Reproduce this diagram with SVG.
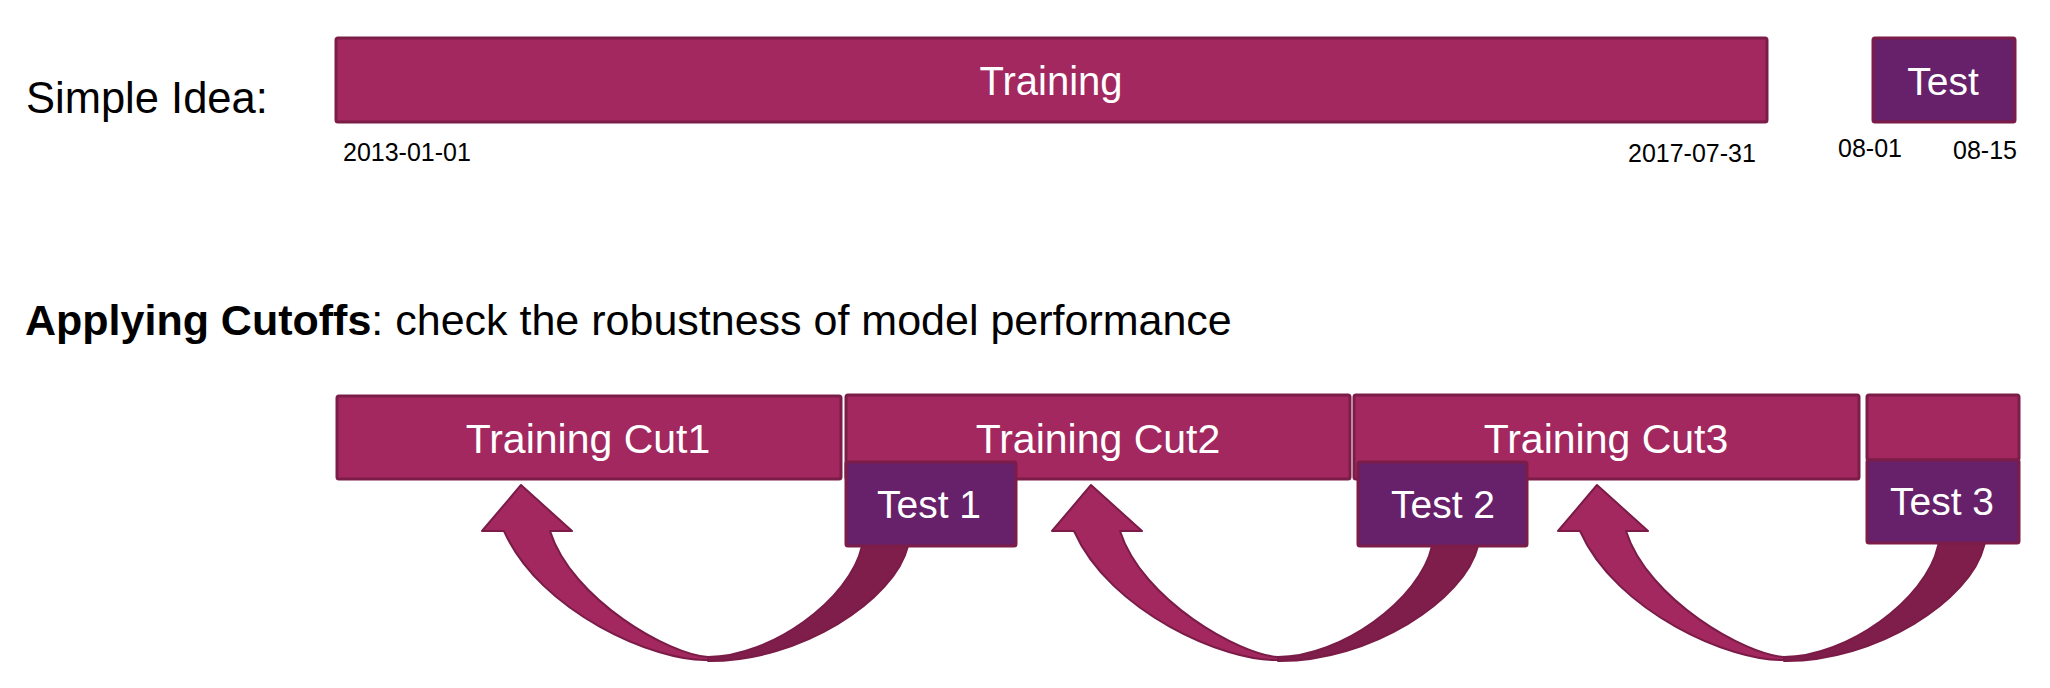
<svg xmlns="http://www.w3.org/2000/svg" xmlns:xlink="http://www.w3.org/1999/xlink" width="2050" height="688" viewBox="0 0 2050 688">
<style>
.train{fill:#A2285F;stroke:#7B1D48;stroke-width:3}
.test{fill:#66216A;stroke:#7B1D48;stroke-width:3}
.lbl{font-family:"Liberation Sans",Arial,sans-serif;fill:#000}
.in{font-family:"Liberation Sans",Arial,sans-serif;fill:#fff;text-anchor:middle}
.date{font-family:"Liberation Sans",Arial,sans-serif;fill:#000;font-size:25px}
.light{fill:#A3285F;stroke:#7A1C47;stroke-width:2;stroke-linejoin:round}
.dark{fill:#7F1D4B;stroke:#7A1C47;stroke-width:2;stroke-linejoin:round}
</style>
<defs>
<g id="curvedArrow">
<path class="dark" d="M 910,540 L 908,546 C 895,600 800,662 708,661 L 708,657 C 770,657 850,600 862,546 L 863,540 Z"/>
<path class="light" d="M 504,531 L 482,531 L 521,485 L 572,531 L 550,531 C 572,600 670,655 708,657 L 708,660 C 655,662 540,612 504,531 Z"/>
</g>
</defs>
<rect width="2050" height="688" fill="#fff"/>

<g id="titles">
<text class="lbl" x="26" y="113" font-size="43.5">Simple Idea:</text>
<text class="lbl" x="25" y="335" font-size="43"><tspan font-weight="bold">Applying Cutoffs</tspan>: check the robustness of model performance</text>
</g>

<g id="connectors">
<use xlink:href="#curvedArrow"/>
<use xlink:href="#curvedArrow" transform="translate(570,0)"/>
<use xlink:href="#curvedArrow" transform="translate(1076,0)"/>
</g>

<g id="training-full">
<rect class="train" x="336" y="38" width="1431" height="84" rx="2"/>
<text class="in" x="1051" y="95" font-size="40">Training</text>
<text class="date" x="343" y="161">2013-01-01</text>
<text class="date" x="1628" y="162">2017-07-31</text>
</g>

<g id="test-full">
<rect class="test" x="1873" y="38" width="142" height="84" rx="2"/>
<text class="in" x="1943" y="95" font-size="39">Test</text>
<text class="date" x="1838" y="157">08-01</text>
<text class="date" x="1953" y="159">08-15</text>
</g>

<g id="training-cut1">
<rect class="train" x="337" y="396" width="504" height="83" rx="2"/>
<text class="in" x="588" y="453" font-size="41">Training Cut1</text>
</g>

<g id="training-cut2">
<rect class="train" x="846" y="395" width="504" height="84" rx="2"/>
<text class="in" x="1098" y="453" font-size="41">Training Cut2</text>
</g>

<g id="training-cut3">
<rect class="train" x="1354" y="395" width="505" height="84" rx="2"/>
<text class="in" x="1606" y="453" font-size="41">Training Cut3</text>
</g>

<g id="training-cut4">
<rect class="train" x="1867" y="395" width="152" height="65" rx="2"/>
</g>

<g id="test1">
<rect class="test" x="846" y="462" width="170" height="84" rx="2"/>
<text class="in" x="929" y="518" font-size="39">Test 1</text>
</g>

<g id="test2">
<rect class="test" x="1358" y="462" width="169" height="84" rx="2"/>
<text class="in" x="1443" y="518" font-size="39">Test 2</text>
</g>

<g id="test3">
<rect class="test" x="1867" y="460" width="152" height="83" rx="2"/>
<text class="in" x="1942" y="515" font-size="39">Test 3</text>
</g>
</svg>
